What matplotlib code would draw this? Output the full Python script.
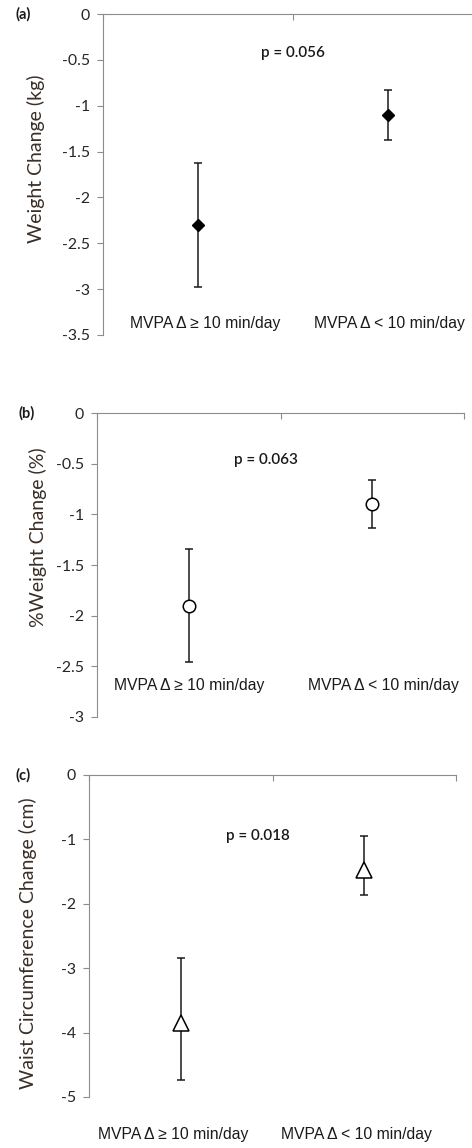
import numpy as np
import matplotlib
matplotlib.use('Agg')
from matplotlib import pyplot as plt

# data
groups = ['MVPA \u0394 \u2265 10 min/day', 'MVPA \u0394 < 10 min/day']

weight_mean = [-2.30, -1.10]
weight_upper = [-1.62, -0.83]
weight_lower = [-2.98, -1.37]

pct_mean = [-1.90, -0.90]
pct_upper = [-1.34, -0.66]
pct_lower = [-2.46, -1.13]

waist_mean = [-3.85, -1.48]
waist_upper = [-2.84, -0.95]
waist_lower = [-4.74, -1.86]

p_values = ['p = 0.056', 'p = 0.063', 'p = 0.018']
y_titles = ['Weight Change (kg)', '%Weight Change (%)', 'Waist Circumference Change (cm)']
panel_tags = ['(a)', '(b)', '(c)']
y_ticks = [[0, -0.5, -1, -1.5, -2, -2.5, -3, -3.5],
           [0, -0.5, -1, -1.5, -2, -2.5, -3],
           [0, -1, -2, -3, -4, -5]]

W, H = 472, 1148
fig = plt.figure(figsize=(W / 100, H / 100), dpi=100)

def px_box(left, right, top, bottom):
    return [left / W, 1 - bottom / H, (right - left) / W, (bottom - top) / H]

# layout per panel: axes box in px, label y (axes frac), p position, tag pos, ylabel pos (px)
layout = [
    dict(box=px_box(103, 483, 14, 335), laby=0.037, lab_dx=[0.04, 0.01], p=(1.5, -0.43),
         tag=(23, 14), ylab=(36, 159), marker=dict(marker='D', ms=6.3, mfc='black', mec='black')),
    dict(box=px_box(97, 464, 413, 717), laby=0.105, lab_dx=[0.0, 0.06], p=(1.42, -0.46),
         tag=(27, 413), ylab=(38, 537), marker=dict(marker='o', ms=9, mfc='white', mec='black', mew=1.1)),
    dict(box=px_box(89, 456, 775, 1097), laby=-0.115, lab_dx=[-0.04, -0.04], p=(1.42, -0.95),
         tag=(23, 775), ylab=(28, 943), marker=dict(marker='^', ms=11.5, mfc='white', mec='black', mew=1.1)),
]

series = [(weight_mean, weight_upper, weight_lower),
          (pct_mean, pct_upper, pct_lower),
          (waist_mean, waist_upper, waist_lower)]

spine_col = '#8c8c8c'
txt_col = '#262626'
x = np.arange(1, len(groups) + 1)

for i, (mean, up, lo) in enumerate(series):
    L = layout[i]
    ax = fig.add_axes(L['box'])
    mean = np.array(mean)
    yerr = [mean - np.array(lo), np.array(up) - mean]
    ax.errorbar(x, mean, yerr=yerr, fmt='none', ecolor='#1a1a1a', elinewidth=1.1,
                capsize=3.2, capthick=1.1, zorder=2)
    ax.plot(x, mean, linestyle='none', zorder=3, **L['marker'])

    ax.set_xlim(0.5, 2.5)
    ax.set_ylim(min(y_ticks[i]), 0)
    ax.set_yticks(y_ticks[i])
    ax.set_yticklabels(['%g' % t for t in y_ticks[i]], fontfamily='Lato', fontsize=11.4, color=txt_col)
    ax.set_xticks([0.5, 1.5, 2.5])
    ax.xaxis.tick_top()
    ax.tick_params(axis='x', direction='in', length=4, color=spine_col, labeltop=False)
    ax.tick_params(axis='y', direction='out', length=4.5, color=spine_col, pad=5)
    ax.spines['right'].set_visible(False)
    ax.spines['bottom'].set_visible(False)
    ax.spines['left'].set_color(spine_col)
    ax.spines['top'].set_color(spine_col)

    for k, g in enumerate(groups):
        ax.text(x[k] + L['lab_dx'][k], L['laby'], g, transform=ax.get_xaxis_transform(),
                ha='center', va='center', fontsize=11.3, family='Liberation Sans',
                color='#1a1a1a', clip_on=False)

    ax.text(L['p'][0], L['p'][1], p_values[i], ha='center', va='center',
            fontsize=11, family='Lato', fontweight='semibold', color='#1a1a1a')

    fig.text(L['tag'][0] / W, 1 - L['tag'][1] / H, panel_tags[i], ha='center', va='center',
             fontsize=10.5, fontweight='bold', family='Lato', color='#1a1a1a')

    fig.text(L['ylab'][0] / W, 1 - L['ylab'][1] / H, y_titles[i], rotation=90,
             ha='center', va='center', fontsize=14, family='Lato', color='#3a2e26')

fig.savefig('out.png', dpi=100)
